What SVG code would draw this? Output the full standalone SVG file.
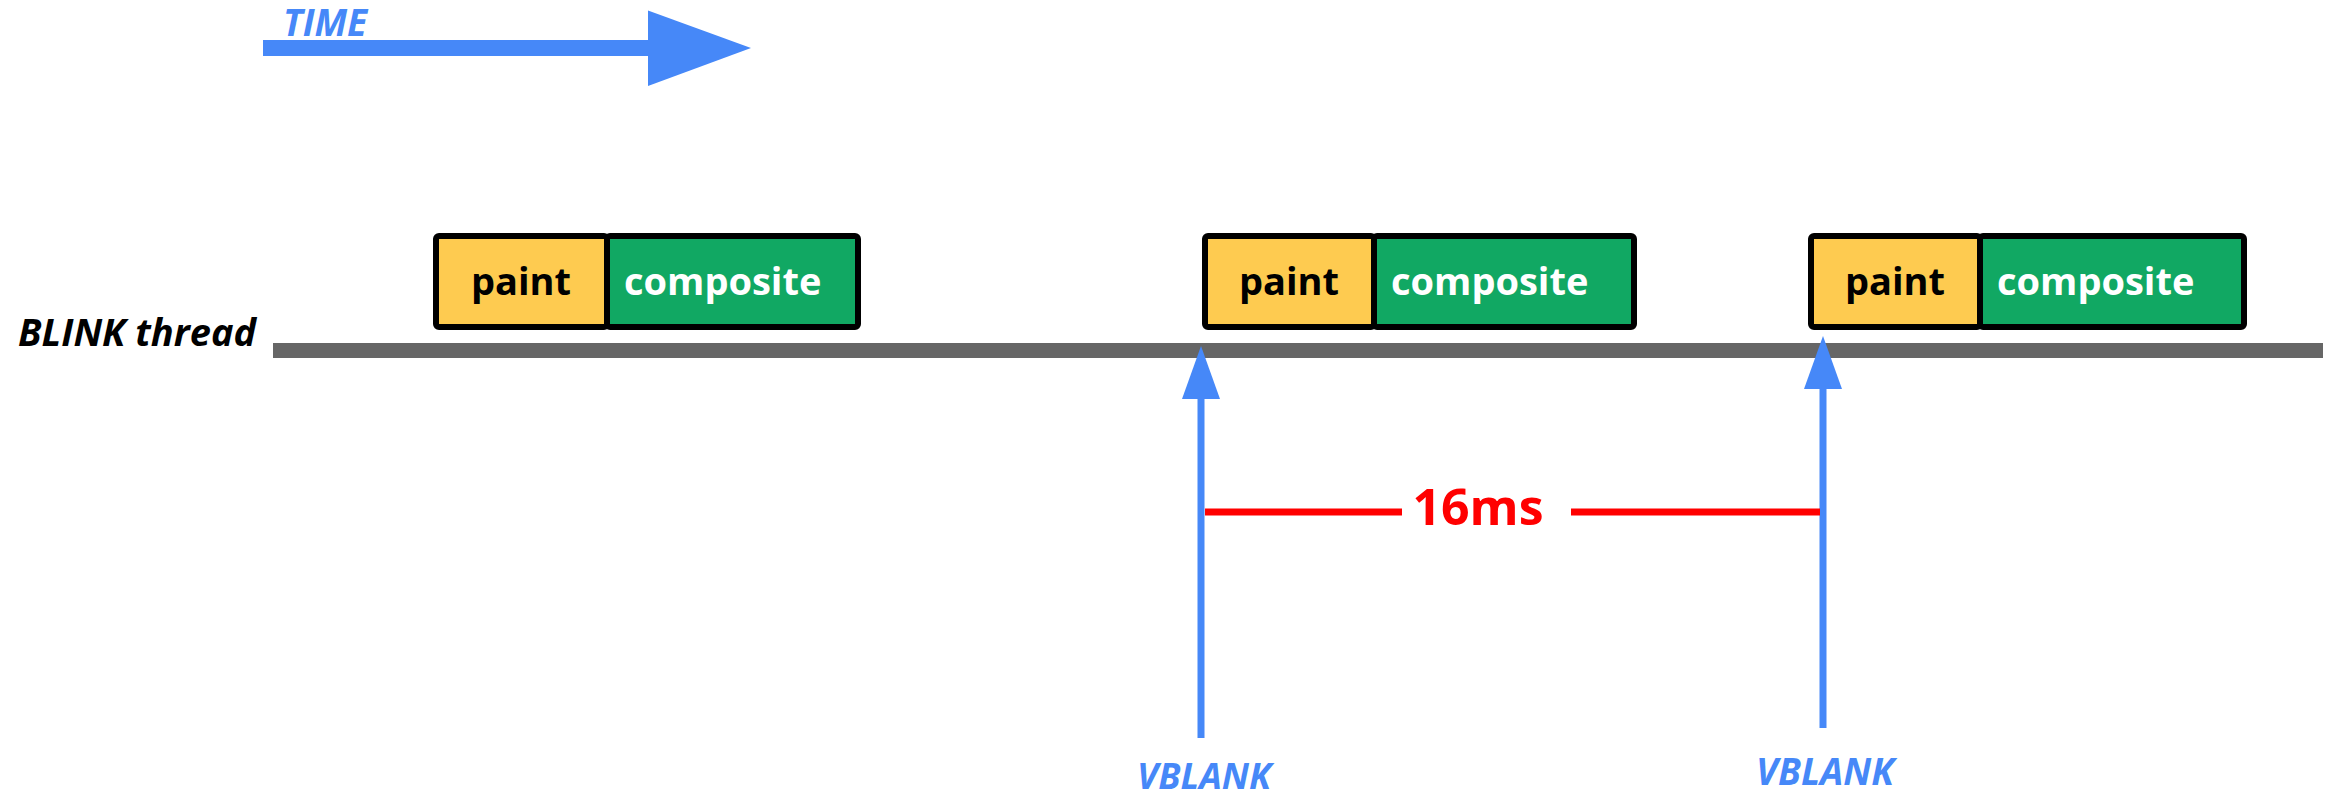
<svg xmlns="http://www.w3.org/2000/svg" width="2328" height="800" viewBox="0 0 2328 800">
<style>
.lbl{font-family:"Open Sans","Noto Sans","Liberation Sans",sans-serif;font-weight:bold}
.it{font-style:italic}
.blue{fill:#4688F8}
.paint{fill:#FECB50;stroke:#000;stroke-width:6}
.comp{fill:#11A863;stroke:#000;stroke-width:6}
.ptxt{font-size:38px;fill:#000;text-anchor:middle}
.ctxt{font-size:38px;fill:#fff}
.vline{stroke:#4688F8;stroke-width:7}
.red{stroke:#FF0000;stroke-width:7}
</style>
<rect width="2328" height="800" fill="#fff"/>
<g id="connectors">
  <g id="time-arrow">
    <rect x="263" y="40" width="385" height="16" class="blue"/>
    <polygon points="648,10.5 751,48 648,86" class="blue"/>
  </g>
  <rect id="timeline" x="273" y="343" width="2050" height="15" fill="#666666"/>
  <g id="vblank1-arrow">
    <line x1="1201" y1="395" x2="1201" y2="738" class="vline"/>
    <polygon points="1201,346 1220,399 1182,399" class="blue"/>
  </g>
  <g id="vblank2-arrow">
    <line x1="1823" y1="385" x2="1823" y2="728" class="vline"/>
    <polygon points="1823,336 1842,389 1804,389" class="blue"/>
  </g>
  <g id="interval">
    <line x1="1205" y1="512" x2="1402" y2="512" class="red"/>
    <line x1="1571" y1="512" x2="1820" y2="512" class="red"/>
  </g>
</g>
<g id="time-label"><text x="283" y="36" class="lbl it blue" font-size="37">TIME</text></g>
<g id="blink-label"><text x="18" y="346" class="lbl it" font-size="38" fill="#000">BLINK thread</text></g>
<g id="frame1">
  <rect x="436" y="236" width="171" height="91" rx="3" class="paint"/>
  <rect x="607" y="236" width="251" height="91" rx="3" class="comp"/>
  <text x="521" y="295" class="lbl ptxt">paint</text>
  <text x="624" y="295" class="lbl ctxt">composite</text>
</g>
<g id="frame2">
  <rect x="1205" y="236" width="169" height="91" rx="3" class="paint"/>
  <rect x="1374" y="236" width="260" height="91" rx="3" class="comp"/>
  <text x="1289" y="295" class="lbl ptxt">paint</text>
  <text x="1391" y="295" class="lbl ctxt">composite</text>
</g>
<g id="frame3">
  <rect x="1811" y="236" width="169" height="91" rx="3" class="paint"/>
  <rect x="1980" y="236" width="264" height="91" rx="3" class="comp"/>
  <text x="1895" y="295" class="lbl ptxt">paint</text>
  <text x="1997" y="295" class="lbl ctxt">composite</text>
</g>
<g id="interval-label"><text x="1478" y="525" class="lbl" font-size="50" fill="#FF0000" text-anchor="middle">16ms</text></g>
<g id="vblank1-label"><text x="1204" y="789" class="lbl it blue" font-size="36" text-anchor="middle">VBLANK</text></g>
<g id="vblank2-label"><text x="1825" y="785" class="lbl it blue" font-size="37" text-anchor="middle">VBLANK</text></g>
</svg>
